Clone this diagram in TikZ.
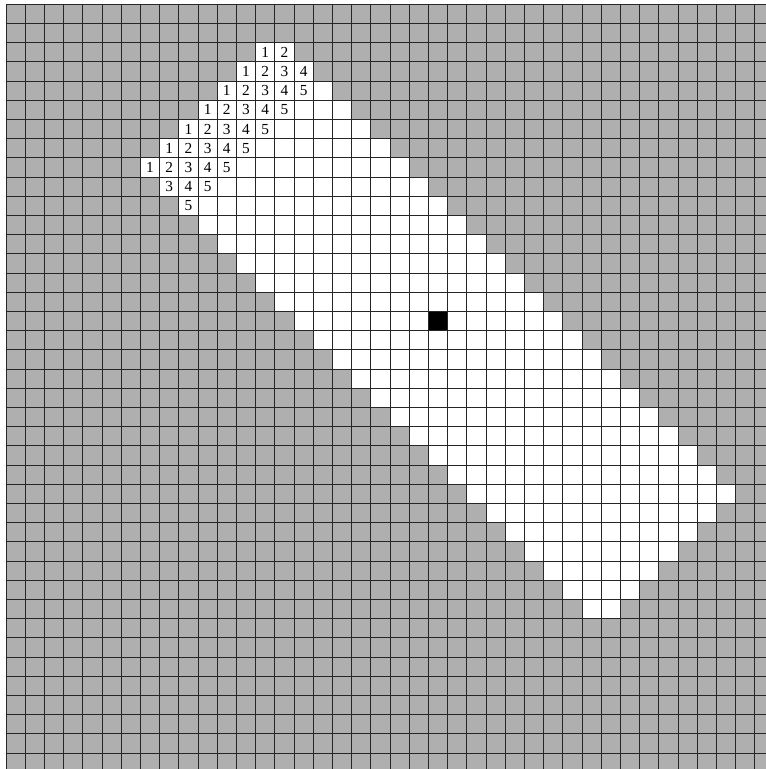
\documentclass[tikz,border=0pt]{standalone}
\usepackage{fontspec}
\setmainfont{Liberation Serif}
\definecolor{cellgray}{RGB}{175,175,175}
\begin{document}
\begin{tikzpicture}[x=0.75pt,y=-0.75pt,
  gridline/.style={black!85, line width=0.7pt},
  numlabel/.style={font=\fontsize{11.5}{13}\selectfont, inner sep=0pt}]
\useasboundingbox (0,0) rectangle (766,769);
\fill[white] (0,0) rectangle (766,769);
\begin{scope}
\clip (0,0) rectangle (766,769);
\begin{scope}[shift={(6,4.3)}, x=14.4pt, y=-14.4pt]
  \fill[cellgray] (0,0) rectangle (40,40);
  \foreach \r in {2,...,31} {
    \pgfmathtruncatemacro{\lo}{max(15-\r,\r-1)}
    \pgfmathtruncatemacro{\hi}{min(\r+12,62-\r)+1}
    \fill[white] (\lo,\r) rectangle (\hi,\r+1);
  }
  \fill[black] (22,16) rectangle (23,17);
  \foreach \k in {0,...,40} {
    \draw[gridline] (\k,0) -- (\k,40);
    \draw[gridline] (0,\k) -- (40,\k);
  }
  \foreach \r/\nlo/\nhi in {2/1/2, 3/1/4, 4/1/5, 5/1/5, 6/1/5, 7/1/5, 8/1/5, 9/3/5, 10/5/5} {
    \foreach \n in {\nlo,...,\nhi} {
      \pgfmathtruncatemacro{\c}{\n+14-\r}
      \node[numlabel] (n-\r-\n) at (\c+0.5,\r+0.5) {\n};
    }
  }
\end{scope}
\end{scope}
\end{tikzpicture}
\end{document}
